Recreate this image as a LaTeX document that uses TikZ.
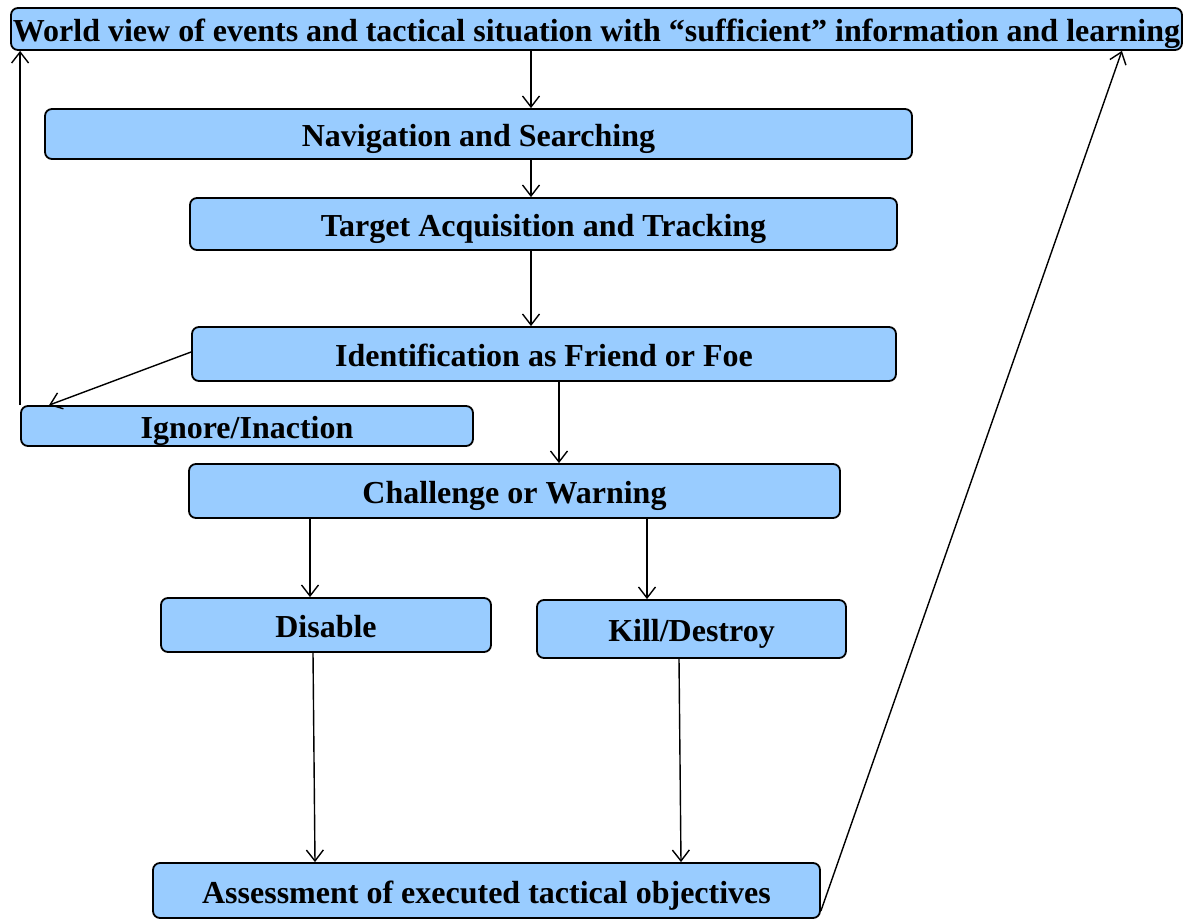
\documentclass[tikz,border=0pt]{standalone}
\usepackage{fontspec}
\setmainfont{Liberation Serif}
\usetikzlibrary{arrows.meta}
\definecolor{boxblue}{HTML}{99CCFF}
\begin{document}
\begin{tikzpicture}[x=1pt,y=-1pt,
  box/.style={draw=black, line width=1.8pt, fill=boxblue, rounded corners=7pt, inner sep=0pt,
    text height=25pt, text depth=0pt,
    font=\fontsize{32}{36}\selectfont\bfseries, anchor=center},
  arr/.style={draw=black, line width=1.4pt, -{Straight Barb[length=11pt,width=17pt,line width=1.4pt]}}]
\useasboundingbox (0,0) rectangle (1183,920);
\node[box, minimum width=1171, minimum height=42] (world) at (596.5,29) {World view of events and tactical situation with “sufficient” information and learning};
\node[box, minimum width=867, minimum height=50] (nav) at (478.5,134) {Navigation and Searching};
\node[box, minimum width=707, minimum height=52] (target) at (543.5,224) {Target Acquisition and Tracking};
\node[box, minimum width=704, minimum height=54] (ident) at (544,354) {Identification as Friend or Foe};
\node[box, minimum width=452, minimum height=40] (ignore) at (247,426) {Ignore/Inaction};
\node[box, minimum width=651, minimum height=54] (chal) at (514.5,491) {Challenge or Warning};
\node[box, minimum width=330, minimum height=54] (disable) at (326,625) {Disable};
\node[box, minimum width=309, minimum height=58] (kill) at (691.5,629) {Kill/Destroy};
\node[box, minimum width=667, minimum height=55] (assess) at (486.5,890.5) {Assessment of executed tactical objectives};

\draw[arr] ([xshift=52.5]nav.north |- world.south) -- ([xshift=52.5]nav.north);
\draw[arr] ([xshift=-12.5]target.north |- nav.south) -- ([xshift=-12.5]target.north);
\draw[arr] ([xshift=-13]ident.north |- target.south) -- ([xshift=-13]ident.north);
\draw[arr] ([xshift=15]ident.south) -- ([xshift=15]ident.south |- chal.north);
\draw[arr] ([xshift=-16]disable.north |- chal.south) -- ([xshift=-16]disable.north);
\draw[arr] ([xshift=-44.5]kill.north |- chal.south) -- ([xshift=-44.5]kill.north);
\draw[arr] ([xshift=-13]disable.south) -- ([xshift=-171.5]assess.north);
\draw[arr] ([xshift=-12.5]kill.south) -- ([xshift=194.5]assess.north);
\draw[arr] ([yshift=2]ident.west) -- ([xshift=29]ignore.north west);
\draw[arr] (ignore.north west) -- (ignore.north west |- world.south);
\draw[arr] ([yshift=8]assess.south east) -- ([xshift=-61]world.south east);
\end{tikzpicture}
\end{document}
